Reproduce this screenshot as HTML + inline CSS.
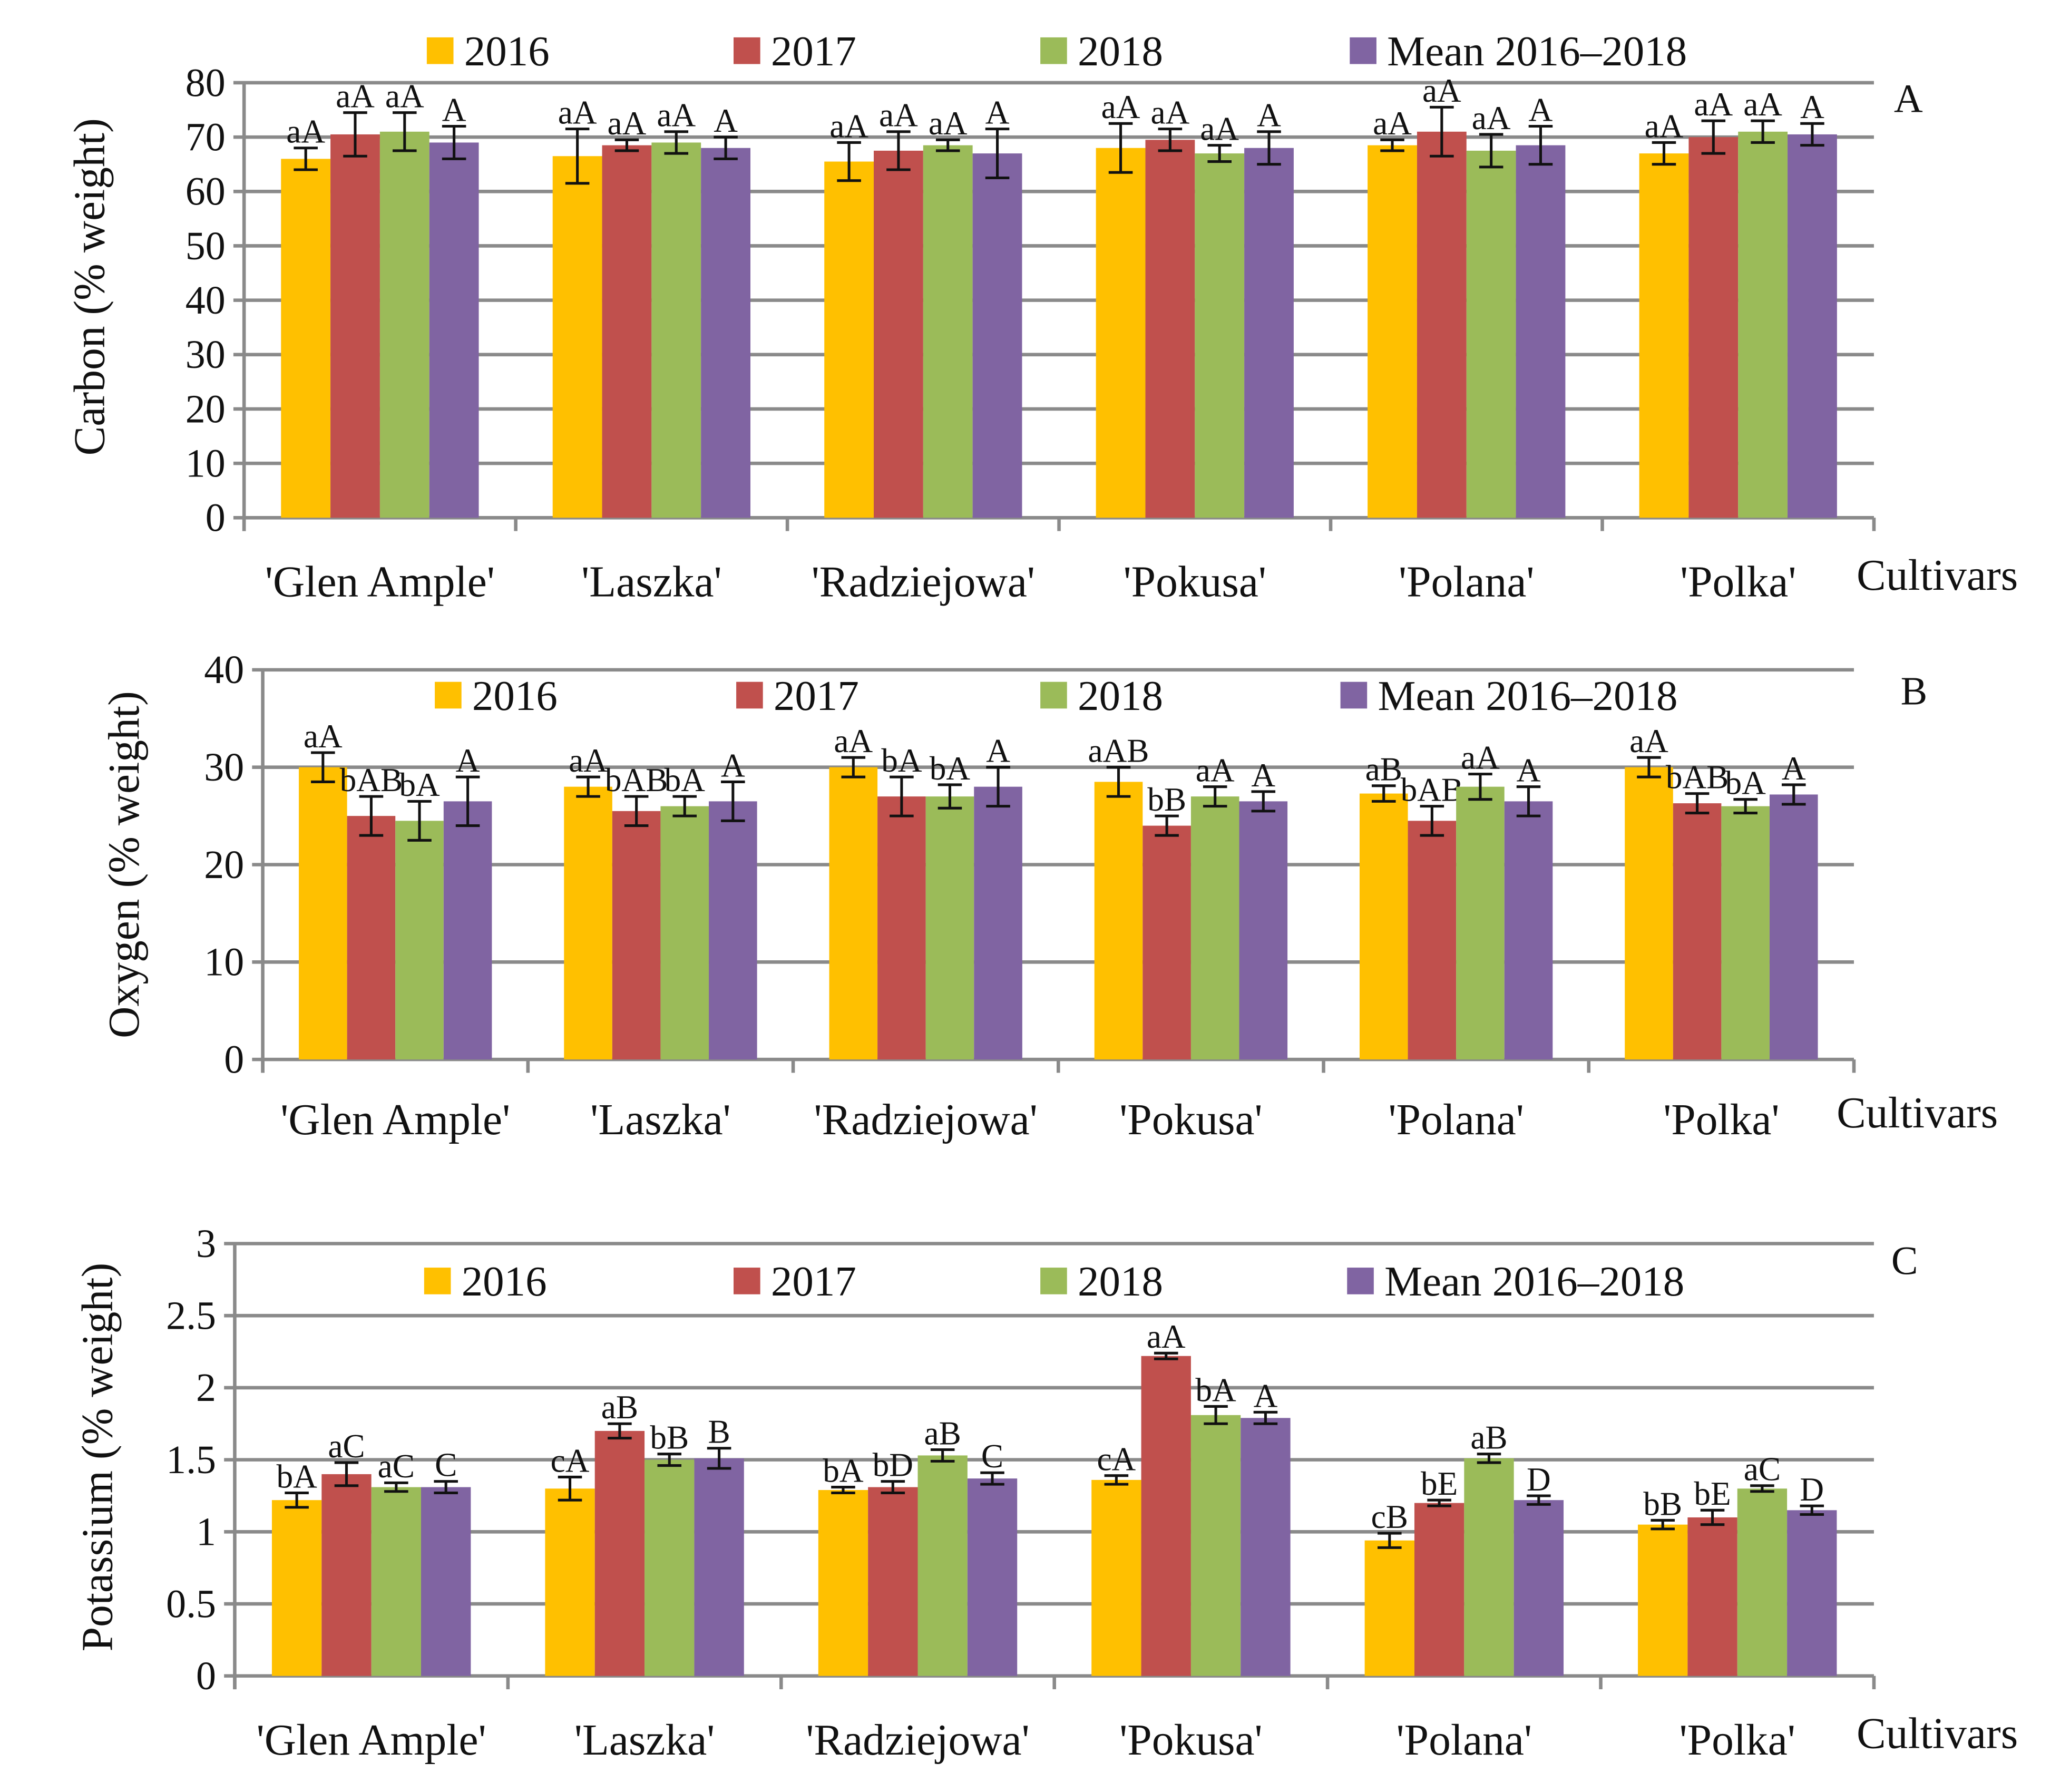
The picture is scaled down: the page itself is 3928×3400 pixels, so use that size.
<!DOCTYPE html>
<html><head><meta charset="utf-8"><style>
html,body{margin:0;padding:0;background:#fff;}
svg{display:block;}
svg text{font-family:"Liberation Serif",serif;}
</style></head><body>
<svg id="fig" width="3928" height="3400" viewBox="0 0 1552 1343" preserveAspectRatio="none" xmlns="http://www.w3.org/2000/svg"></svg>
<script>
const cultivars = ["'Glen Ample'","'Laszka'","'Radziejowa'","'Pokusa'","'Polana'","'Polka'"];
const seriesNames = ["2016","2017","2018","Mean 2016–2018"];
const colors = ["#FFC000","#C0504D","#9BBB59","#8064A2"];

const carbon2016 = [66,66.5,65.5,68,68.5,67];
const carbon2017 = [70.5,68.5,67.5,69.5,71,70];
const carbon2018 = [71,69,68.5,67,67.5,71];
const carbonMean = [69,68,67,68,68.5,70.5];
const carbonErr2016 = [2,5,3.5,4.5,1,2];
const carbonErr2017 = [4,1,3.5,2,4.5,3];
const carbonErr2018 = [3.5,2,1,1.5,3,2];
const carbonErrMean = [3,2,4.5,3,3.5,2];
const carbonLab2016 = ["aA","aA","aA","aA","aA","aA"];
const carbonLab2017 = ["aA","aA","aA","aA","aA","aA"];
const carbonLab2018 = ["aA","aA","aA","aA","aA","aA"];
const carbonLabMean = ["A","A","A","A","A","A"];
const carbonTicks = [0,10,20,30,40,50,60,70,80];

const oxygen2016 = [30,28,30,28.5,27.3,30];
const oxygen2017 = [25,25.5,27,24,24.5,26.3];
const oxygen2018 = [24.5,26,27,27,28,26];
const oxygenMean = [26.5,26.5,28,26.5,26.5,27.2];
const oxygenErr2016 = [1.5,1,1,1.5,0.8,1];
const oxygenErr2017 = [2,1.5,2,1,1.5,1];
const oxygenErr2018 = [2,1,1.2,1,1.3,0.7];
const oxygenErrMean = [2.5,2,2,1,1.5,1];
const oxygenLab2016 = ["aA","aA","aA","aAB","aB","aA"];
const oxygenLab2017 = ["bAB","bAB","bA","bB","bAB","bAB"];
const oxygenLab2018 = ["bA","bA","bA","aA","aA","bA"];
const oxygenLabMean = ["A","A","A","A","A","A"];
const oxygenTicks = [0,10,20,30,40];

const potassium2016 = [1.22,1.3,1.29,1.36,0.94,1.05];
const potassium2017 = [1.4,1.7,1.31,2.22,1.2,1.1];
const potassium2018 = [1.31,1.5,1.53,1.81,1.51,1.3];
const potassiumMean = [1.31,1.51,1.37,1.79,1.22,1.15];
const potassiumErr2016 = [0.05,0.08,0.02,0.03,0.05,0.03];
const potassiumErr2017 = [0.08,0.05,0.04,0.02,0.02,0.05];
const potassiumErr2018 = [0.03,0.04,0.04,0.06,0.03,0.02];
const potassiumErrMean = [0.04,0.07,0.04,0.04,0.03,0.03];
const potassiumLab2016 = ["bA","cA","bA","cA","cB","bB"];
const potassiumLab2017 = ["aC","aB","bD","aA","bE","bE"];
const potassiumLab2018 = ["aC","bB","aB","bA","aB","aC"];
const potassiumLabMean = ["C","B","C","A","D","D"];
const potassiumTicks = [0,0.5,1,1.5,2,2.5,3];

const NS="http://www.w3.org/2000/svg";
const svg=document.getElementById('fig');
function mk(tag,attrs,parent,text){
  const e=document.createElementNS(NS,tag);
  for(const k in attrs)e.setAttribute(k,attrs[k]);
  if(tag==='text')e.setAttribute('font-family','Liberation Serif, serif');
  if(text!==undefined)e.textContent=text;
  (parent||svg).appendChild(e);return e;
}

function drawPanel(cfg){
  const g=mk('g',{});
  
  
  const yMax=cfg.ticks[cfg.ticks.length-1];
  const ys=v=>cfg.y0-(v/yMax)*(cfg.y0-cfg.yTop);
  const gw=(cfg.xR-cfg.xL)/cultivars.length;
  cfg.ticks.forEach(t=>{
    const y=ys(t);
    const l=mk('line',{x1:cfg.xL-8,x2:cfg.xR,y1:y,y2:y,stroke:'#8a8a8a','stroke-width':2.6},g);
    
    
    const tx=mk('text',{x:cfg.xL-14,y:y+10,'text-anchor':'end','font-size':30,fill:'#111'},g,String(t));
    
    
  });
  const ax=mk('line',{x1:cfg.xL,x2:cfg.xL,y1:cfg.yTop,y2:cfg.y0+10,stroke:'#8a8a8a','stroke-width':2.6},g);
  
  
  for(let i=0;i<=cultivars.length;i++){
    const x=cfg.xL+i*gw;
    const tk=mk('line',{x1:x,x2:x,y1:cfg.y0,y2:cfg.y0+10,stroke:'#8a8a8a','stroke-width':2.6},g);
    
    
  }
  const bw=gw*0.182, pad=(gw-4*bw)/2;
  cfg.series.forEach((vals,s)=>{
    vals.forEach((v,i)=>{
      const x=cfg.xL+i*gw+pad+s*bw;
      const y=ys(v);
      const r=mk('rect',{x:x,y:y,width:bw,height:cfg.y0-y,fill:colors[s]},g);
      
      
      const e=cfg.errs[s][i], cx=x+bw/2, yt=ys(v+e), yb=ys(v-e);
      const eb=mk('path',{d:`M${cx-9},${yt}H${cx+9}M${cx},${yt}V${yb}M${cx-9},${yb}H${cx+9}`,stroke:'#111','stroke-width':2,fill:'none'},g);
      
      
      const lb=mk('text',{x:cx,y:yt-4,'text-anchor':'middle','font-size':25,fill:'#111'},g,cfg.labs[s][i]);
      
      
    });
  });
  cultivars.forEach((c,i)=>{
    const t=mk('text',{x:cfg.xL+(i+0.5)*gw,y:cfg.catY,'text-anchor':'middle','font-size':33,fill:'#111'},g,c);
    
    
  });
  const cv=mk('text',{x:cfg.xR-13,y:cfg.catY-5,'font-size':33,fill:'#111'},g,'Cultivars');
  
  
  const yl=mk('text',{x:0,y:0,'text-anchor':'middle','font-size':33,fill:'#111',transform:`translate(${cfg.ylX},${cfg.ylY}) rotate(-90)`},g,cfg.ylabel);
  
  
  const pl=mk('text',{x:cfg.letterX,y:cfg.letterY,'font-size':30,fill:'#111'},g,cfg.letter);
  
  
  cfg.legX.forEach((lx,s)=>{
    const lg=mk('g',{},g);
    
    
    mk('rect',{x:lx,y:cfg.legY-10,width:20,height:20,fill:colors[s]},lg);
    mk('text',{x:lx+28,y:cfg.legY+11,'font-size':32,fill:'#111'},lg,seriesNames[s]);
  });
}

drawPanel({name:'carbon',xL:183,xR:1405,yTop:62,y0:388,ticks:carbonTicks,
  series:[carbon2016,carbon2017,carbon2018,carbonMean],
  errs:[carbonErr2016,carbonErr2017,carbonErr2018,carbonErrMean],
  labs:[carbonLab2016,carbonLab2017,carbonLab2018,carbonLabMean],
  catY:447,ylabel:'Carbon  (% weight)',ylX:78,ylY:215,letter:'A',letterX:1420,letterY:84,
  legY:38,legX:[320,550,780,1012]});
drawPanel({name:'oxygen',xL:197,xR:1390,yTop:502,y0:794,ticks:oxygenTicks,
  series:[oxygen2016,oxygen2017,oxygen2018,oxygenMean],
  errs:[oxygenErr2016,oxygenErr2017,oxygenErr2018,oxygenErrMean],
  labs:[oxygenLab2016,oxygenLab2017,oxygenLab2018,oxygenLabMean],
  catY:850,ylabel:'Oxygen (% weight)',ylX:104,ylY:648,letter:'B',letterX:1425,letterY:528,
  legY:521,legX:[326,552,780,1005]});
drawPanel({name:'potassium',xL:176,xR:1405,yTop:932,y0:1256,ticks:potassiumTicks,
  series:[potassium2016,potassium2017,potassium2018,potassiumMean],
  errs:[potassiumErr2016,potassiumErr2017,potassiumErr2018,potassiumErrMean],
  labs:[potassiumLab2016,potassiumLab2017,potassiumLab2018,potassiumLabMean],
  catY:1315,ylabel:'Potassium (% weight)',ylX:84,ylY:1092,letter:'C',letterX:1418,letterY:955,
  legY:960,legX:[318,550,780,1010]});
</script>
</body></html>
